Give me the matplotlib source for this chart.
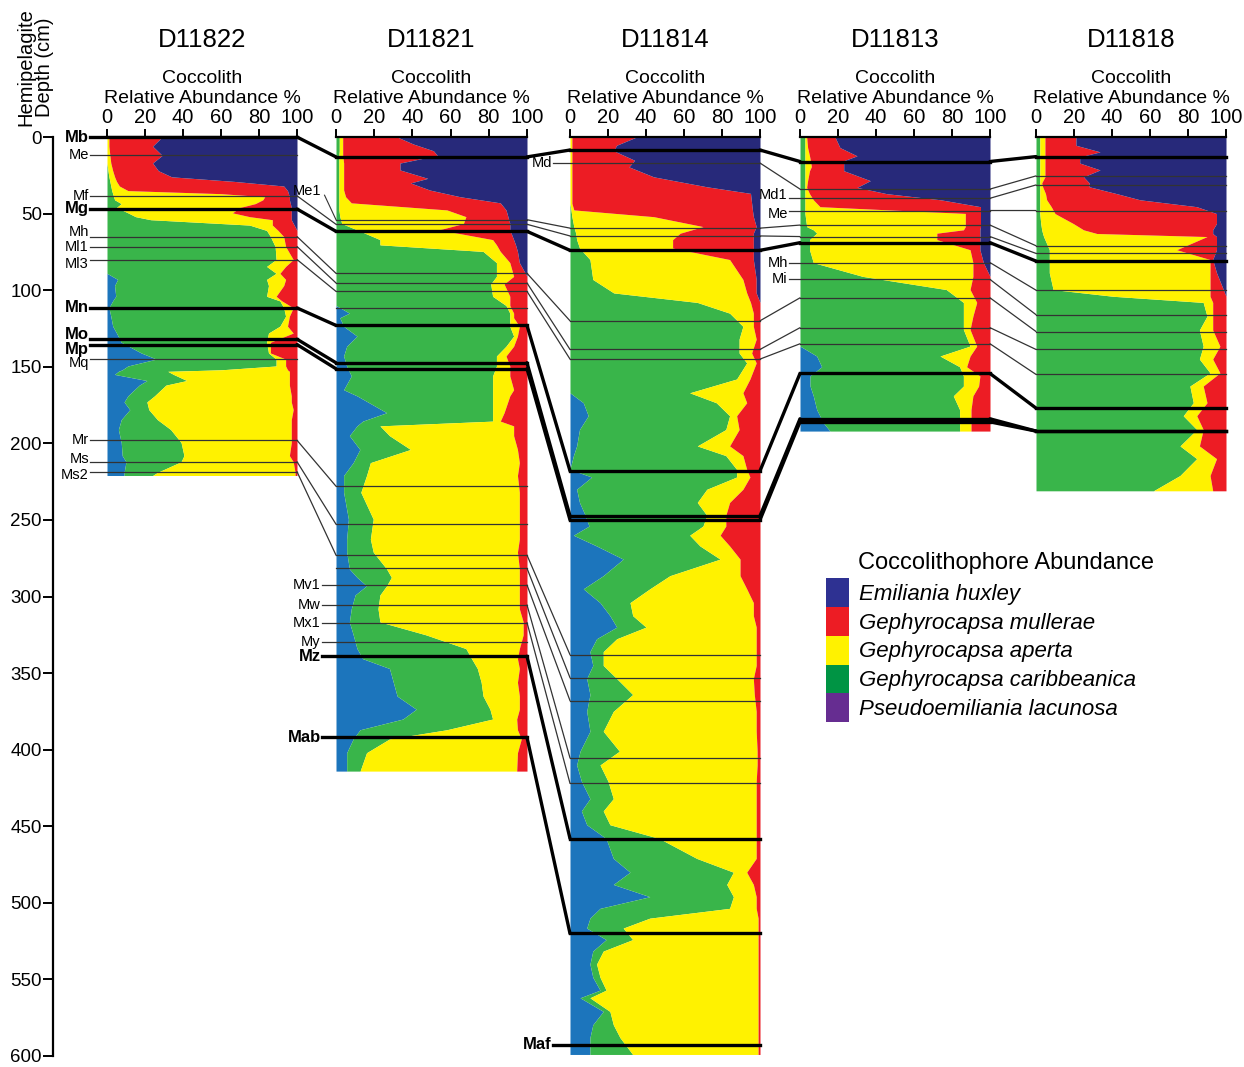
import numpy as np
import matplotlib.pyplot as plt
from matplotlib.patches import ConnectionPatch, Patch

plt.rcParams['font.family'] = ['Liberation Sans', 'DejaVu Sans']

# colours of the five taxa (left to right in each column)
col_lac = '#1c75bc'   # P. lacunosa
col_car = '#39b54a'   # G. caribbeanica
col_ape = '#fff200'   # G. aperta
col_mul = '#ed1c24'   # G. mullerae
col_hux = '#27297a'   # E. huxleyi

cores = ['D11822', 'D11821', 'D11814', 'D11813', 'D11818']

# cumulative relative abundance (%) read from left edge of each column
# lac = P. lacunosa, car = +G. caribbeanica, ape = +G. aperta, mul = +G. mullerae
d11822_depth = [0, 6, 12, 17, 22, 26, 29, 32, 35, 37, 39, 41, 43.5, 46, 49.5, 52, 54, 57.5, 61, 65,
                71.5, 80, 84.5, 89, 93, 97, 104, 107, 111.5, 117, 123.5, 128, 134, 141, 145, 149.5,
                152, 153, 155, 159, 162, 169, 173, 178, 184.5, 191, 199.5, 208, 212, 219, 221]
d11822_lac = [0] * 24 + [5.6, 4, 4.6, 3, 1, 2, 3, 5, 7.5, 18, 26, 11, 8, 6, 4, 21, 17, 11,
                         9, 12, 7.5, 6, 7.5, 8, 10, 9, 9]
d11822_car = [0, 0, 0, 0, 0.5, 1, 1.5, 2, 2.5, 3, 3.5, 4, 7.5, 5, 11, 15, 23, 75, 84, 86,
              88.5, 89, 84, 89, 84, 85, 84, 91, 93, 94, 91, 85, 84, 85, 89, 89,
              60, 32, 35, 42, 31, 25, 21, 22, 26.5, 33.5, 39, 40.5, 39, 26.5, 24]
d11822_ape = [1, 1, 1.5, 2, 3, 4, 5, 6.5, 11, 60, 83, 82, 78, 70, 66, 75, 87, 87, 90, 93,
              94, 98, 94, 91, 94, 93, 89, 92, 98, 96, 95, 98, 86, 86, 94, 94,
              95, 96, 96, 96, 96, 97, 97, 98, 97, 97, 97, 96, 98, 99, 99]
d11822_mul = [29, 24, 29, 24, 27, 34, 67, 93, 95, 95.5, 96, 96, 96.5, 97, 97, 97, 97, 98.5, 100, 100] + [100] * 31

d11821_depth = [0, 4.6, 9, 12, 17, 21.5, 27, 30, 34.6, 39, 43, 47.6, 52, 56.5, 60.6, 67, 70.4, 74.7, 82, 91,
                96, 104, 110, 115, 118, 123.6, 130, 136.6, 143, 149.6, 156, 165, 169, 180, 185.5, 188.6,
                195, 204, 212.6, 221, 232, 249.5, 262.5, 271, 282, 287.5, 293, 299, 308, 316.6,
                325, 334, 340.6, 347, 356, 365, 373.6, 380, 387, 393, 402, 414]
d11821_lac = [0] * 23 + [7, 2, 4, 11, 5.6, 4, 5.6, 8, 4, 11, 26.5, 14, 11, 7, 12.5, 9, 4,
                         4, 6.5, 5.6, 5.6, 7, 11, 16, 10, 8, 7, 9, 11, 14, 28, 30, 32, 42, 35, 12.6, 9,
                         5.6, 5.6]
d11821_car = [1.7, 1.7, 1.7, 1.5, 1.5, 1.5, 1.5, 1.5, 1.5, 1.5, 1.5, 1.5, 2, 3, 11, 23, 23, 77, 84, 84,
              81, 82, 89, 91, 91, 91, 93, 89, 84, 84, 82, 82, 82, 82, 82, 23,
              28, 39, 18, 16, 13, 19.5, 18, 19.5, 26.5, 29, 26.5, 23, 22, 23,
              47, 68, 71, 74, 76, 77, 80.6, 82, 58, 28, 16, 12.6]
d11821_ape = [3.5, 3.5, 3.5, 3.5, 4, 4, 4, 4, 4, 5, 8, 58, 68, 66.7, 54, 82, 84, 86, 91, 93,
              88, 91, 91, 93, 93, 96, 95, 93, 89, 91, 91, 93, 91, 88, 86, 93,
              93, 95, 96, 95, 96, 96, 96, 95, 96, 96, 96, 96, 96, 98,
              98, 96, 95, 96, 95, 96, 96, 94.6, 95, 97, 95, 94.6]
d11821_mul = [32, 40.5, 51, 53, 33.5, 33.5, 48, 39, 49, 65, 86, 89, 90, 91, 91, 93, 94, 95, 96, 100] + [100] * 42

d11814_depth = [0, 5.4, 9, 15.2, 19.5, 26, 32.5, 36.8, 43.3, 47.6, 52, 58.5, 62.8, 67, 72.5, 80, 93, 101.8, 108, 115,
                123.6, 132, 141, 147.5, 158, 167, 173.5, 182, 191, 201.7, 208, 217, 222, 230, 238.6, 247, 254, 260, 267, 275.6,
                286.4, 295, 304, 312.5, 320, 327.6, 336, 345, 353.6, 364, 375, 388, 401, 410, 420.6, 432, 440, 449, 458, 471,
                480, 488, 496, 503.6, 510, 516.5, 524, 531.5, 540, 548.6, 557, 562, 570.9, 579.6, 588, 599]
d11814_lac = [0] * 26 + [7, 9.6, 5, 3.5, 1.8, 0, 11.4, 3.5, 5, 8, 10, 1.8, 14, 28, 17.5, 7, 15.8, 21, 24.6, 14,
                         10.5, 12, 8.8, 10.5, 8.8, 10.5, 5.3, 3.5, 6, 10.5, 6, 8.8, 19, 22.8, 31.6, 22.8, 42, 15.8, 10.5, 8.8,
                         19, 12, 10.5, 12, 15.8, 5.3, 17.5, 12, 10.5, 10.5]
d11814_car = [0, 0, 0, 0, 0, 0, 0, 0, 0, 0.5, 1, 2, 3, 3.5, 5, 10.5, 12, 23, 67, 84,
              91, 89, 89, 93, 87.7, 63, 77, 84, 82, 67, 82, 87.7, 87.7, 72, 67, 72, 70, 63, 68.4, 79,
              52.6, 42, 31.6, 33, 40, 24.6, 17.5, 17.5, 24.6, 33, 22.8, 17.5, 26, 15.8, 20, 22.8, 17.5, 21, 47, 66.7,
              86, 82.5, 86, 84, 42, 28, 33, 17.5, 14, 15.8, 19, 10.5, 21, 22.8, 26.3, 33]
d11814_ape = [1, 1, 1, 1, 1, 1, 1, 1, 1, 2, 44, 70, 58, 54, 54, 84, 91, 93, 95, 96.5,
              96.5, 98, 95.6, 98, 94.7, 91, 93, 87.7, 89, 84, 91, 93, 94.7, 91, 84, 82, 82, 79, 84, 89.5,
              89.5, 93, 96.5, 96.5, 98, 98, 98, 98, 96.5, 97, 98, 98, 98.5, 98.5, 98, 98, 98, 98, 98, 98,
              93, 96.5, 98, 98, 99, 99, 99, 99, 99, 99, 99, 99, 99, 99, 99, 99]
d11814_mul = [35, 24.5, 23, 34, 31, 44, 72, 95, 95.6, 96, 96.5, 98, 96.5, 96.5, 96.5, 96.5, 98, 98, 100] + [100] * 57

d11813_depth = [0, 6.9, 12.3, 15.5, 19.3, 22, 28.5, 32.9, 37, 41, 45.5, 49.9, 58.5, 60.6, 62.8, 67, 73.6, 82, 91, 99.6,
                108, 117, 125.7, 136.5, 143, 150, 156, 162.6, 169, 178, 186.6, 192]
d11813_lac = [0] * 24 + [8.8, 11.4, 5.3, 5.3, 7, 8.8, 12.3, 15.8]
d11813_car = [2.6] * 12 + [3.5, 7, 8.8, 5, 5, 7, 33, 77, 86, 86, 86, 89.5, 73.7, 84, 86, 86, 80.7, 84, 84, 84]
d11813_ape = [3.5, 4, 5, 5.5, 6, 5, 4, 3.5, 5, 7, 10.5, 87, 87, 86, 72, 72, 89.5, 91, 91, 89.5,
              93, 91, 89.5, 93, 89.5, 87.7, 94.7, 94, 91, 90, 90, 90]
d11813_mul = [18.4, 21, 30, 23, 23, 23, 37, 30, 45.6, 74, 95, 95, 95, 94.7, 94.7, 94.7, 94.7, 96.5, 100] + [100] * 13

d11818_depth = [0, 5.4, 9.7, 13, 17, 21.5, 26, 30, 32.5, 37, 41, 45.5, 50, 56.5, 60.6, 63, 65, 73.6, 80, 88.6,
                99.6, 104, 108, 117, 126, 136.6, 145, 154, 162.6, 173.5, 182, 191, 201.7, 210, 221, 231]
d11818_lac = [0] * 36
d11818_car = [2] * 13 + [2.5, 3, 3.5, 4, 7, 7, 7, 9, 40.7, 88, 90, 86, 88, 86, 91.6, 81, 82.8,
                         77.5, 84.6, 75.8, 84.6, 75.8, 61.8]
d11818_ape = [4.7, 4.7, 4.7, 4.7, 4.7, 4.7, 4.7, 3, 3.5, 5, 5.6, 8, 10, 19.6, 25, 32, 90, 74, 91.6, 91.6,
              91.6, 91.6, 93, 93, 93, 96.8, 93, 96.8, 88, 90, 84.6, 88, 86, 95, 91.6, 93]
d11818_mul = [21, 21, 33.7, 23, 23, 33.7, 25, 28, 28, 42.5, 54.7, 84.6, 95, 95, 93, 93, 95, 95, 93, 95,
              98.6] + [100] * 15

core_data = [
    (d11822_depth, d11822_lac, d11822_car, d11822_ape, d11822_mul),
    (d11821_depth, d11821_lac, d11821_car, d11821_ape, d11821_mul),
    (d11814_depth, d11814_lac, d11814_car, d11814_ape, d11814_mul),
    (d11813_depth, d11813_lac, d11813_car, d11813_ape, d11813_mul),
    (d11818_depth, d11818_lac, d11818_car, d11818_ape, d11818_mul),
]

# correlation horizons: depth (cm) in each core, None where not traced
# (label, core carrying the label, thick line?, depths)
horizons = [
    ('Mb', 0, True, [0, 13, 8.5, 16, 12.8]),
    ('Me', 0, False, [11.7, None, None, None, None]),
    ('Md', 2, False, [None, None, 17, 34, 25.4]),
    ('Md1', 3, False, [None, None, None, 40, 31.3]),
    ('Me', 3, False, [None, None, None, 48, 48]),
    ('Me1', 1, False, [None, 54, 59.5, 57.5, 71]),
    ('Mf', 0, False, [38.4, 57, 64.6, 65, 76]),
    ('Mg', 0, True, [47, 61.6, 74, 69, 81]),
    ('Mh', 0, False, [65, 89, 120, 105, 127]),
    ('Ml1', 0, False, [71.5, 95.3, 138.7, 124.5, 138.7]),
    ('Ml3', 0, False, [80, 100.8, 145, 135, 155]),
    (None, 1, False, [None, 111.6, None, None, None]),
    ('Mh', 3, False, [None, None, None, 82, 100]),
    ('Mi', 3, False, [None, None, None, 93, 116]),
    ('Mn', 0, True, [111.6, 123, 218, 154.4, 177]),
    ('Mo', 0, True, [132, 147.4, 247.4, 184, 192]),
    ('Mp', 0, True, [135.5, 151.3, 250, 186, 192]),
    ('Mq', 0, False, [145, None, None, None, None]),
    ('Mr', 0, False, [198, 228, None, None, None]),
    ('Ms', 0, False, [212, 252.8, None, None, None]),
    ('Ms2', 0, False, [218.5, 273, 338, None, None]),
    (None, 1, False, [None, 281.6, 353, None, None]),
    ('Mv1', 1, False, [None, 292.5, 368, None, None]),
    ('Mw', 1, False, [None, 305.5, 405.4, None, None]),
    ('Mx1', 1, False, [None, 317, 422, None, None]),
    ('My', 1, False, [None, 330, None, None, None]),
    ('Mz', 1, True, [None, 339, 458, None, None]),
    ('Mab', 1, True, [None, 392, 520, None, None]),
    ('Maf', 2, True, [None, None, 592.6, None, None]),
]
# small vertical nudges (cm) of crowded labels: (core, label) -> shift
label_nudge = {(0, 'Mh'): -3, (0, 'Ml3'): 3, (0, 'Mo'): -3, (0, 'Mp'): 3, (0, 'Mq'): 2.5,
               (0, 'Ms'): -2, (0, 'Ms2'): 2.5, (3, 'Md1'): -2, (3, 'Me'): 2}

W, H = 1244, 1067
top_px, bot_px = 137, 1056
core_px = [(107, 297), (336, 527), (570, 760), (800, 990), (1036, 1226)]
label_x = [-9, -7.5, -9, -6, -6]
ax_h = bot_px - top_px

fig = plt.figure(figsize=(W / 100, H / 100), dpi=100)

axes = []
for i, (x0, x1) in enumerate(core_px):
    ax = fig.add_axes([x0 / W, 1 - bot_px / H, (x1 - x0) / W, ax_h / H])
    depth, lac, car, ape, mul = [np.array(a, dtype=float) for a in core_data[i]]
    ax.fill_betweenx(depth, 0, lac, color=col_lac, lw=0)
    ax.fill_betweenx(depth, lac, car, color=col_car, lw=0)
    ax.fill_betweenx(depth, car, ape, color=col_ape, lw=0)
    ax.fill_betweenx(depth, ape, mul, color=col_mul, lw=0)
    ax.fill_betweenx(depth, mul, 100, color=col_hux, lw=0)
    ax.set_xlim(0, 100)
    ax.set_ylim(600, 0)
    for s in ['left', 'right', 'bottom']:
        ax.spines[s].set_visible(False)
    ax.spines['top'].set_linewidth(1.6)
    ax.xaxis.tick_top()
    ax.set_xticks([0, 20, 40, 60, 80, 100])
    ax.tick_params(axis='x', length=6, width=1.4, labelsize=14.5, pad=1)
    ax.set_yticks([])
    ax.patch.set_alpha(0)
    ax.text(0.5, 1 + 97 / ax_h, cores[i], transform=ax.transAxes, ha='center', va='center', fontsize=18.5)
    ax.text(0.5, 1 + 48.5 / ax_h, 'Coccolith\nRelative Abundance %', transform=ax.transAxes,
            ha='center', va='center', fontsize=14, linespacing=1.22)
    axes.append(ax)

# horizon lines and their correlation between cores
for name, lab_core, thick, depths in horizons:
    lw = 2.4 if thick else 0.9
    col = 'black' if thick else '#333333'
    for i, d in enumerate(depths):
        if d is None:
            continue
        labelled = name is not None and i == lab_core
        if labelled and name == 'Me1':
            axes[i].plot([0, 100], [d, d], color=col, lw=lw, clip_on=False, zorder=3)
            axes[i].plot([-6, 0], [38, d], color=col, lw=0.8, clip_on=False, zorder=3)
            axes[i].text(-7.5, 35.5, name, ha='right', va='center', fontsize=10.5)
            continue
        x_start = label_x[i] if labelled else 0
        axes[i].plot([x_start, 100], [d, d], color=col, lw=lw, clip_on=False, zorder=3)
        if labelled:
            axes[i].text(x_start - 0.5, d + label_nudge.get((i, name), 0), name,
                         ha='right', va='center', fontsize=12 if thick else 10.5,
                         fontweight='bold' if thick else 'normal')
    for i in range(4):
        if depths[i] is not None and depths[i + 1] is not None:
            con = ConnectionPatch(xyA=(100, depths[i]), coordsA=axes[i].transData,
                                  xyB=(0, depths[i + 1]), coordsB=axes[i + 1].transData,
                                  color=col, lw=lw, zorder=3)
            fig.add_artist(con)

# depth scale
axd = fig.add_axes([53 / W, 1 - bot_px / H, 0.001, ax_h / H])
axd.set_ylim(600, 0)
axd.set_yticks(np.arange(0, 601, 50))
axd.tick_params(axis='y', length=7, width=1.4, labelsize=13.5, pad=1)
axd.set_xticks([])
for s in ['top', 'right', 'bottom']:
    axd.spines[s].set_visible(False)
axd.spines['left'].set_linewidth(1.6)
fig.text(35 / W, 1 - 67 / H, 'Hemipelagite\nDepth (cm)', rotation=90, ha='center', va='center',
         fontsize=14.5, linespacing=1.0)

# legend
leg_names = ['Emiliania huxley', 'Gephyrocapsa mullerae', 'Gephyrocapsa aperta',
             'Gephyrocapsa caribbeanica', 'Pseudoemiliania lacunosa']
leg_cols = ['#2e3192', '#ed1c24', '#fff200', '#009444', '#662d91']
handles = [Patch(facecolor=c, edgecolor='none', label=n) for c, n in zip(leg_cols, leg_names)]
leg = fig.legend(handles=handles, loc='upper left', bbox_to_anchor=(826 / W, 1 - 578 / H),
                 frameon=False, prop={'size': 16, 'style': 'italic'}, handlelength=1.05,
                 handleheight=1.62, labelspacing=0, handletextpad=0.42, borderpad=0, borderaxespad=0)
fig.text(858 / W, 1 - 563 / H, 'Coccolithophore Abundance', ha='left', va='center', fontsize=17)

fig.savefig('out.png', dpi=100)
